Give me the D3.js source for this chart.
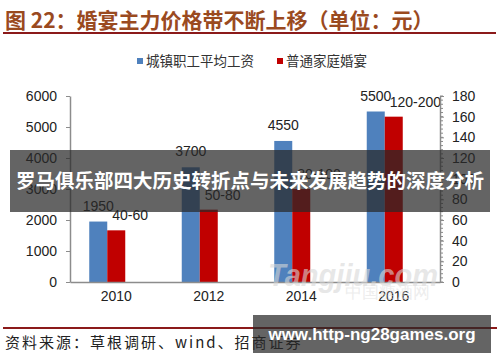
<!DOCTYPE html>
<html>
<head>
<meta charset="utf-8">
<script src="https://cdn.jsdelivr.net/npm/d3@7/dist/d3.min.js"></script>
<style>
  html, body { margin: 0; padding: 0; background: #fff; }
  svg { display: block; }
  text { font-family: "Liberation Sans", Arial, sans-serif; }
  .cjk { font-family: "Noto Sans CJK SC", sans-serif; }
</style>
</head>
<body>
<div id="chart"></div>
<script>
const categories = ['2010', '2012', '2014', '2016']
const wage = [1950, 3700, 4550, 5500]
const banquet = [50, 70, 90, 160]
const wageLabels = ['1950', '3700', '4550', '5500']
const banquetLabels = ['40-60', '50-80', '80-100', '120-200']
const leftTicks = [0, 1000, 2000, 3000, 4000, 5000, 6000]
const rightTicks = [0, 20, 40, 60, 80, 100, 120, 140, 160, 180]
const seriesNames = ['城镇职工平均工资', '普通家庭婚宴']

const W = 500, H = 362
const margin = { top: 96, right: 60, bottom: 80, left: 70 }
const blue = '#4f81bd', red = '#c00000'
const barW = 18

const svg = d3.select('#chart').append('svg')
    .attr('width', W)
    .attr('height', H)

// Title and rule
svg.append('text')
    .attr('class', 'cjk')
    .attr('x', 5).attr('y', 28)
    .attr('font-size', '21px')
    .attr('font-weight', 'bold')
    .attr('fill', '#9a4a1f')
    .text('图 22：婚宴主力价格带不断上移（单位：元）')
svg.append('line')
    .attr('x1', 3).attr('x2', 496).attr('y1', 33).attr('y2', 33)
    .attr('stroke', '#8b1a1a').attr('stroke-width', 2)

// Scales
let x = d3.scaleBand()
    .domain(categories)
    .range([margin.left, W - margin.right])
let yL = d3.scaleLinear().domain([0, 6000]).range([H - margin.bottom, margin.top])
let yR = d3.scaleLinear().domain([0, 180]).range([H - margin.bottom, margin.top])
const baseY = H - margin.bottom

// Legend
const legend = svg.append('g')
seriesNames.forEach((name, i) => {
    let lx = i === 0 ? 137 : 277
    legend.append('rect')
        .attr('x', lx).attr('y', 58).attr('width', 6).attr('height', 6)
        .attr('fill', i === 0 ? blue : red)
    legend.append('text')
        .attr('class', 'cjk')
        .attr('x', lx + 9).attr('y', 66)
        .attr('font-size', '13.5px')
        .attr('fill', '#333')
        .text(name)
})

// Bars
const bx = c => x(c) + x.bandwidth() / 2 - 9
svg.selectAll('.wage')
    .data(wage)
    .enter()
    .append('rect')
    .attr('x', (d, i) => bx(categories[i]) - barW)
    .attr('y', d => yL(d))
    .attr('width', barW)
    .attr('height', d => baseY - yL(d))
    .attr('fill', blue)

svg.selectAll('.banquet')
    .data(banquet)
    .enter()
    .append('rect')
    .attr('x', (d, i) => bx(categories[i]))
    .attr('y', d => yR(d))
    .attr('width', barW)
    .attr('height', d => baseY - yR(d))
    .attr('fill', red)

// Data labels
svg.selectAll('.wlab')
    .data(wage)
    .enter()
    .append('text')
    .attr('x', (d, i) => bx(categories[i]) - barW / 2)
    .attr('y', d => yL(d) - 11)
    .attr('text-anchor', 'middle')
    .attr('font-size', '14px')
    .attr('fill', '#222')
    .text((d, i) => wageLabels[i])

svg.selectAll('.blab')
    .data(banquet)
    .enter()
    .append('text')
    .attr('x', (d, i) => bx(categories[i]) + 5)
    .attr('y', d => yR(d) - 10)
    .attr('font-size', '14px')
    .attr('fill', '#222')
    .text((d, i) => banquetLabels[i])

// Axes
let leftAxis = d3.axisLeft(yL)
    .tickValues(leftTicks)
    .tickFormat(d3.format('d'))
    .tickSizeInner(4)
    .tickSizeOuter(0)
    .tickPadding(9)
svg.append('g')
    .attr('transform', `translate(${margin.left}, 0)`)
    .call(leftAxis)

let rightAxis = d3.axisRight(yR)
    .tickValues(rightTicks)
    .tickFormat(d3.format('d'))
    .tickSizeInner(4)
    .tickSizeOuter(0)
    .tickPadding(8)
let gR = svg.append('g')
    .attr('transform', `translate(${W - margin.right}, 0)`)
    .call(rightAxis)
// Minor ticks on right axis
gR.selectAll('.minor')
    .data(d3.range(0, 181, 4))
    .enter()
    .append('line')
    .attr('x1', 0).attr('x2', 3)
    .attr('y1', d => yR(d)).attr('y2', d => yR(d))
    .attr('stroke', '#888')

let bottomAxis = d3.axisBottom(x)
    .tickSize(0)
    .tickSizeOuter(0)
    .tickPadding(9)
svg.append('g')
    .attr('transform', `translate(0, ${baseY})`)
    .call(bottomAxis)

svg.selectAll('.domain').attr('stroke', '#8c8c8c').attr('stroke-width', 1.5)
svg.selectAll('.tick line').attr('stroke', '#8c8c8c')
svg.selectAll('.tick text')
    .attr('font-size', '14px')
    .attr('fill', '#222')
    .attr('font-family', '"Liberation Sans", Arial, sans-serif')

// Watermark
svg.append('text')
    .attr('x', 268).attr('y', 286)
    .attr('font-size', '32px')
    .attr('font-weight', 'bold')
    .attr('font-style', 'italic')
    .attr('textLength', 170)
    .attr('lengthAdjust', 'spacingAndGlyphs')
    .attr('fill', 'rgba(215,215,215,0.6)')
    .text('Tangjiu.com')
svg.append('text')
    .attr('x', 345).attr('y', 298)
    .attr('font-family', '"Noto Serif CJK SC", "Noto Sans CJK SC", serif')
    .attr('font-size', '17px')
    .attr('fill', 'rgba(225,225,225,0.6)')
    .text('中国糖酒网')

// Footer
svg.append('line')
    .attr('x1', 3).attr('x2', 497).attr('y1', 328).attr('y2', 328)
    .attr('stroke', '#8b1a1a').attr('stroke-width', 2)
svg.append('text')
    .attr('class', 'cjk')
    .attr('x', 5).attr('y', 348)
    .attr('font-size', '15px')
    .attr('letter-spacing', '2px')
    .attr('fill', '#222')
    .text('资料来源：草根调研、wind、招商证券')

// Overlay banners
svg.append('rect')
    .attr('x', 10).attr('y', 150).attr('width', 480).attr('height', 62)
    .attr('fill', 'rgba(40,40,40,0.72)')
svg.append('text')
    .attr('class', 'cjk')
    .attr('x', 250).attr('y', 188)
    .attr('text-anchor', 'middle')
    .attr('font-size', '19.5px')
    .attr('font-weight', 'bold')
    .attr('fill', '#fff')
    .text('罗马俱乐部四大历史转折点与未来发展趋势的深度分析')

svg.append('rect')
    .attr('x', 253).attr('y', 315).attr('width', 238).attr('height', 38)
    .attr('fill', 'rgba(40,40,40,0.72)')
svg.append('text')
    .attr('x', 372).attr('y', 340)
    .attr('text-anchor', 'middle')
    .attr('font-family', '"DejaVu Sans", sans-serif')
    .attr('font-size', '17px')
    .attr('font-weight', 'bold')
    .attr('fill', '#fff')
    .text('www.http-ng28games.org')
</script>
</body>
</html>
